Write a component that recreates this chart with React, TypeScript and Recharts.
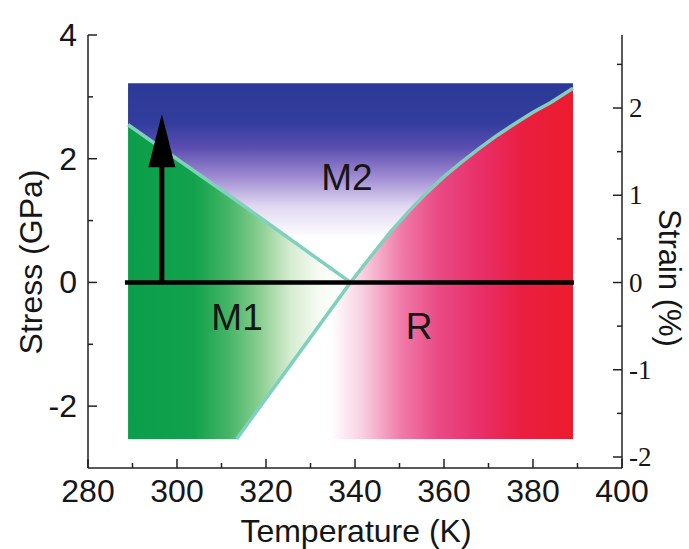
import React from 'react';
import { ComposedChart, Area, Line, XAxis, YAxis, ReferenceLine, ReferenceDot } from 'recharts';

// temperature (K) sample points along the phase boundaries
const temps = [289, 313.4, 339, 344, 348, 352, 356, 360, 364, 368, 372, 376, 380, 384, 389];
// M1 / M2 boundary (GPa)
const m1m2Boundary: (number | null)[] = [2.55, 1.32, 0, null, null, null, null, null, null, null, null, null, null, null, null];
// M1 / R and M2 / R boundary (GPa)
const rBoundary: (number | null)[] = [null, -2.53, 0, 0.46, 0.82, 1.14, 1.44, 1.71, 1.95, 2.17, 2.38, 2.57, 2.75, 2.91, 3.14];
const stressTop = 3.22;
const stressBottom = -2.53;

const tempTicks = [280, 290, 300, 310, 320, 330, 340, 350, 360, 370, 380, 390, 400];
const stressTicks = [-2, -1, 0, 1, 2, 3, 4];
const strainTicks = [-2, -1.5, -1, -0.5, 0, 0.5, 1, 1.5, 2, 2.5];

const phaseLabels = [
  { name: 'M2', t: 338.2, s: 1.71 },
  { name: 'M1', t: 313.5, s: -0.56 },
  { name: 'R', t: 354.4, s: -0.71 },
];
const zeroLine = [{ x: 288.3, y: 0 }, { x: 389.2, y: 0 }];
const arrowLine = [{ x: 296.6, y: 0 }, { x: 296.6, y: 2.72 }];

const data = temps.map((t, i) => {
  const m = m1m2Boundary[i];
  const r = rBoundary[i];
  return {
    t,
    m1: m == null ? null : [r == null ? stressBottom : r, m],
    m2: [m ?? r, stressTop],
    r: r == null ? null : [stressBottom, r],
    m1m2: m,
    rb: r,
  };
});

const SANS = 'Arial, "Liberation Sans", sans-serif';
const SERIF = '"Times New Roman", "Liberation Serif", serif';
const INK = '#161616';
const AXIS = '#222';

const BottomTick = (props: any) => {
  const { x, y, payload } = props;
  const major = payload.value % 20 === 0;
  return (
    <g>
      <line x1={x} y1={y} x2={x} y2={y - (major ? 9 : 5)} stroke={AXIS} strokeWidth={1.5} />
      {major && (
        <text x={x} y={y + 34} textAnchor="middle" fontFamily={SANS} fontSize={32} fill={INK}>
          {payload.value}
        </text>
      )}
    </g>
  );
};

const TopTick = (props: any) => {
  const { x, y, payload } = props;
  const major = payload.value % 20 === 0;
  return <line x1={x} y1={y} x2={x} y2={y + (major ? 9 : 5)} stroke={AXIS} strokeWidth={1.5} />;
};

const LeftTick = (props: any) => {
  const { x, y, payload } = props;
  const major = payload.value % 2 === 0;
  return (
    <g>
      <line x1={x} y1={y} x2={x + (major ? 9 : 5)} y2={y} stroke={AXIS} strokeWidth={1.5} />
      {major && (
        <text x={x - 11} y={y + 11} textAnchor="end" fontFamily={SANS} fontSize={32} fill={INK}>
          {payload.value}
        </text>
      )}
    </g>
  );
};

const RightTick = (props: any) => {
  const { x, y, payload } = props;
  const major = Number.isInteger(payload.value);
  return (
    <g>
      <line x1={x} y1={y} x2={x - (major ? 9 : 5)} y2={y} stroke={AXIS} strokeWidth={1.5} />
      {major && (
        <text x={x + 7} y={y + 9} textAnchor="start" fontFamily={SERIF} fontSize={27} fill={INK}>
          {payload.value}
        </text>
      )}
    </g>
  );
};

const ArrowShape = (p: any) => {
  const tipY = Math.min(p.y1, p.y2);
  const baseY = Math.max(p.y1, p.y2);
  const x = p.x1;
  return (
    <g>
      <line x1={x} y1={baseY} x2={x} y2={tipY + 50} stroke="#000" strokeWidth={5} />
      <polygon points={`${x},${tipY} ${x - 13.5},${tipY + 53} ${x + 13.5},${tipY + 53}`} fill="#000" />
    </g>
  );
};

const PhaseText = (name: string) => (p: any) => (
  <text x={p.cx} y={p.cy + 13} textAnchor="middle" fontFamily={SANS} fontSize={37} fill={INK}>
    {name}
  </text>
);

export default function App() {
  return (
    <div style={{ position: 'absolute', left: 0, top: 0, width: 689, height: 549, background: '#fff' }}>
      <ComposedChart width={689} height={549} data={data} margin={{ top: 35, right: 0, bottom: 0, left: 0 }}>
        <defs>
          <linearGradient id="gM1" x1="0" y1="0" x2="1" y2="0">
            <stop offset="0" stopColor="#0b9e4a" />
            <stop offset="0.3" stopColor="#12a24d" />
            <stop offset="0.45" stopColor="#45b566" />
            <stop offset="0.58" stopColor="#84cc8c" />
            <stop offset="0.73" stopColor="#d6ecd0" />
            <stop offset="0.86" stopColor="#f7fbf4" />
            <stop offset="1" stopColor="#ffffff" />
          </linearGradient>
          <linearGradient id="gM2" x1="0" y1="0" x2="0" y2="1">
            <stop offset="0" stopColor="#2d3996" />
            <stop offset="0.2" stopColor="#323d9d" />
            <stop offset="0.32" stopColor="#5a4db0" />
            <stop offset="0.46" stopColor="#9a86cf" />
            <stop offset="0.62" stopColor="#e2d9f2" />
            <stop offset="0.78" stopColor="#ffffff" />
            <stop offset="1" stopColor="#ffffff" />
          </linearGradient>
          <linearGradient id="gR" x1="0" y1="0" x2="1" y2="0">
            <stop offset="0" stopColor="#ffffff" />
            <stop offset="0.28" stopColor="#ffffff" />
            <stop offset="0.37" stopColor="#f8d2e2" />
            <stop offset="0.49" stopColor="#f07aa8" />
            <stop offset="0.6" stopColor="#e94a84" />
            <stop offset="0.72" stopColor="#e8306a" />
            <stop offset="0.85" stopColor="#ea1e40" />
            <stop offset="1" stopColor="#ec1c2e" />
          </linearGradient>
        </defs>
        <XAxis
          dataKey="t"
          type="number"
          domain={[280, 400]}
          allowDataOverflow
          ticks={tempTicks}
          interval={0}
          height={81}
          tickSize={0}
          tickMargin={0}
          tickLine={false}
          tick={<BottomTick />}
          axisLine={{ stroke: AXIS, strokeWidth: 1.5 }}
        />
        <XAxis
          xAxisId="top"
          orientation="top"
          dataKey="t"
          type="number"
          domain={[280, 400]}
          allowDataOverflow
          ticks={tempTicks}
          interval={0}
          height={0}
          tickSize={0}
          tickMargin={0}
          tickLine={false}
          tick={<TopTick />}
          axisLine={{ stroke: AXIS, strokeWidth: 1.5 }}
        />
        <YAxis
          yAxisId="left"
          type="number"
          domain={[-3, 4]}
          allowDataOverflow
          ticks={stressTicks}
          interval={0}
          width={88}
          tickSize={0}
          tickMargin={0}
          tickLine={false}
          tick={<LeftTick />}
          axisLine={{ stroke: AXIS, strokeWidth: 1.5 }}
        />
        <YAxis
          yAxisId="right"
          orientation="right"
          type="number"
          domain={[-2.126, 2.837]}
          allowDataOverflow
          ticks={strainTicks}
          interval={0}
          width={67}
          tickSize={0}
          tickMargin={0}
          tickLine={false}
          tick={<RightTick />}
          axisLine={{ stroke: AXIS, strokeWidth: 1.5 }}
        />
        <Area yAxisId="left" type="linear" dataKey="m2" stroke="none" fill="url(#gM2)" fillOpacity={1} isAnimationActive={false} activeDot={false} />
        <Area yAxisId="left" type="linear" dataKey="m1" stroke="none" fill="url(#gM1)" fillOpacity={1} isAnimationActive={false} activeDot={false} />
        <Area yAxisId="left" type="linear" dataKey="r" stroke="none" fill="url(#gR)" fillOpacity={1} isAnimationActive={false} activeDot={false} />
        <Line yAxisId="left" type="linear" dataKey="m1m2" stroke="#7fd1be" strokeWidth={3.5} dot={false} activeDot={false} isAnimationActive={false} />
        <Line yAxisId="left" type="linear" dataKey="rb" stroke="#7fd1be" strokeWidth={3.5} dot={false} activeDot={false} isAnimationActive={false} />
        <ReferenceLine yAxisId="left" segment={zeroLine} stroke="#000" strokeWidth={4.5} />
        <ReferenceLine yAxisId="left" segment={arrowLine} shape={ArrowShape} />
        {phaseLabels.map((l) => (
          <ReferenceDot key={l.name} yAxisId="left" x={l.t} y={l.s} r={0} shape={PhaseText(l.name)} />
        ))}
        <text x={356} y={542} textAnchor="middle" fontFamily={SANS} fontSize={32} fill={INK}>
          Temperature (K)
        </text>
        <text transform="translate(42,262) rotate(-90)" textAnchor="middle" fontFamily={SANS} fontSize={32} fill={INK}>
          Stress (GPa)
        </text>
        <text transform="translate(659,278) rotate(90)" textAnchor="middle" fontFamily={SANS} fontSize={31} fill={INK}>
          Strain (%)
        </text>
      </ComposedChart>
    </div>
  );
}
